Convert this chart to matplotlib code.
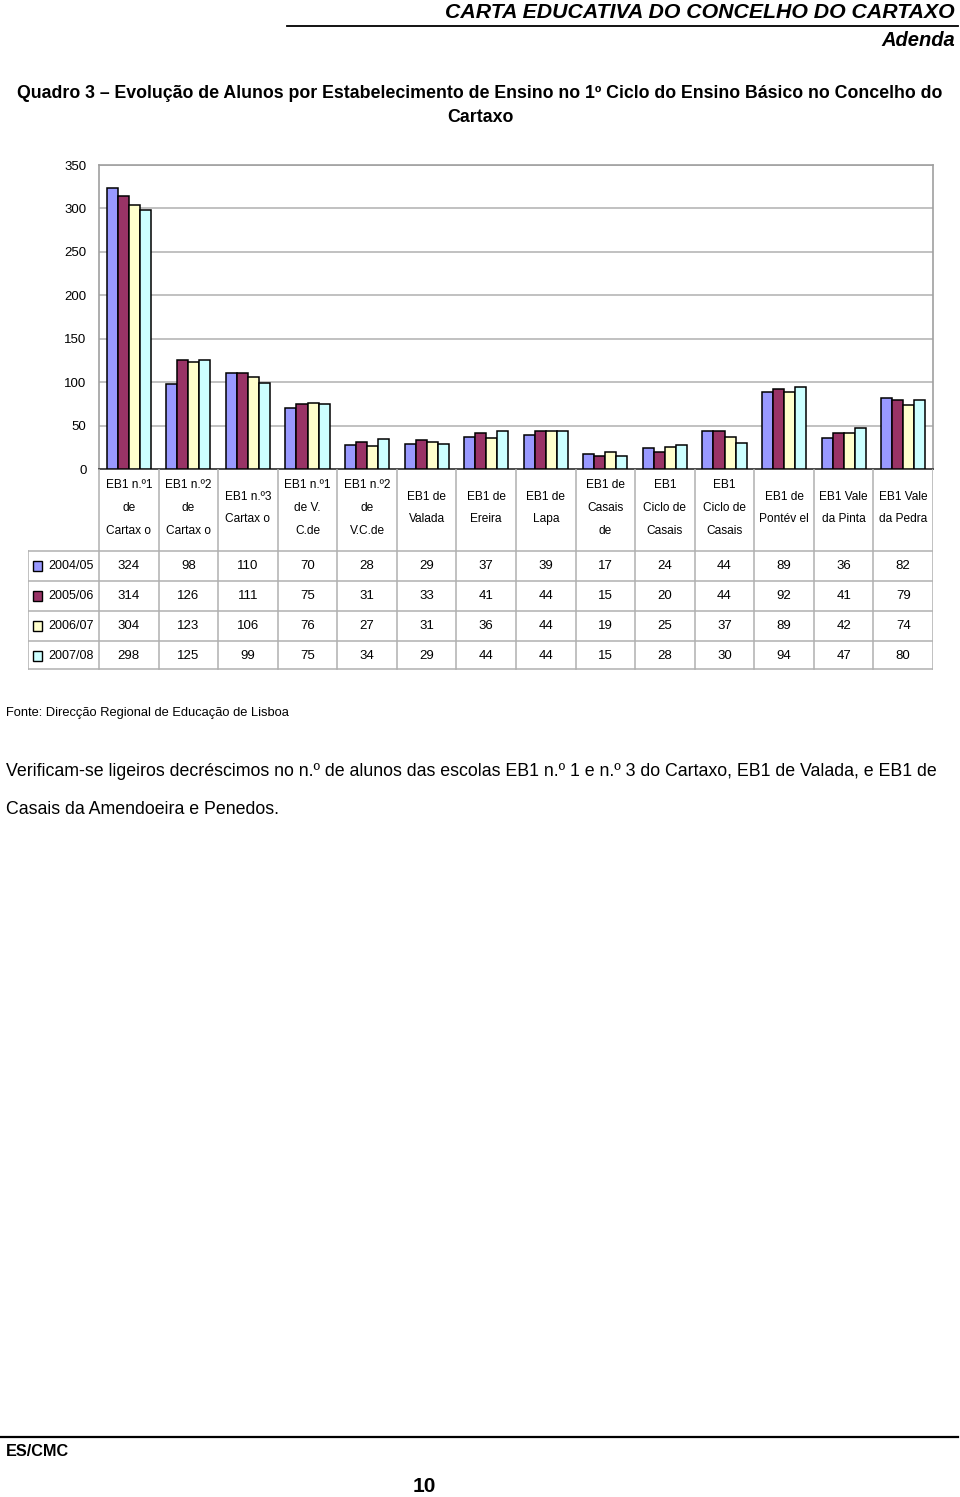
import numpy as np
import matplotlib
matplotlib.use("Agg")
import matplotlib.pyplot as plt
from matplotlib.patches import Rectangle

plt.rcParams['font.family'] = ['Liberation Sans', 'DejaVu Sans']

# --- data ---
schools = ["EB1 n.º1\nde\nCartax o", "EB1 n.º2\nde\nCartax o", "EB1 n.º3\nCartax o",
           "EB1 n.º1\nde V.\nC.de", "EB1 n.º2\nde\nV.C.de", "EB1 de\nValada",
           "EB1 de\nEreira", "EB1 de\nLapa", "EB1 de\nCasais\nde",
           "EB1\nCiclo de\nCasais", "EB1\nCiclo de\nCasais", "EB1 de\nPontév el",
           "EB1 Vale\nda Pinta", "EB1 Vale\nda Pedra"]
years = ["2004/05", "2005/06", "2006/07", "2007/08"]
y2004 = [324, 98, 110, 70, 28, 29, 37, 39, 17, 24, 44, 89, 36, 82]
y2005 = [314, 126, 111, 75, 31, 33, 41, 44, 15, 20, 44, 92, 41, 79]
y2006 = [304, 123, 106, 76, 27, 31, 36, 44, 19, 25, 37, 89, 42, 74]
y2007 = [298, 125, 99, 75, 34, 29, 44, 44, 15, 28, 30, 94, 47, 80]
series = [y2004, y2005, y2006, y2007]
colors = ["#9999FF", "#993366", "#FFFFCC", "#CCFFFF"]
yticks = [0, 50, 100, 150, 200, 250, 300, 350]

W, H = 960, 1497
fig = plt.figure(figsize=(W / 100, H / 100), dpi=100)


def fx(x):
    return x / W


def fy(y):
    return 1 - y / H


# page header
fig.text(fx(955), fy(12), "CARTA EDUCATIVA DO CONCELHO DO CARTAXO", ha="right", va="center",
         fontsize=15.3, fontweight="bold", fontstyle="italic")
fig.add_artist(plt.Line2D([fx(287), fx(958)], [fy(26), fy(26)], color="black", lw=1.3))
fig.text(fx(955), fy(41), "Adenda", ha="right", va="center",
         fontsize=14.5, fontweight="bold", fontstyle="italic")

# title
fig.text(fx(480), fy(93), "Quadro 3 – Evolução de Alunos por Estabelecimento de Ensino no 1º Ciclo do Ensino Básico no Concelho do",
         ha="center", va="center", fontsize=12.8, fontweight="bold")
fig.text(fx(480), fy(118), "Cartaxo", ha="center", va="center", fontsize=12.8, fontweight="bold")

# chart area
x0, x1, ytop, ybot = 99, 933, 165, 469
ax = fig.add_axes([fx(x0), fy(ybot), (x1 - x0) / W, (ybot - ytop) / H])
n = len(schools)
x = np.arange(n)
bw = 0.185
for i, (vals, c) in enumerate(zip(series, colors)):
    ax.bar(x + (i - 1.5) * bw, vals, width=bw, color=c, edgecolor="black", linewidth=1.1, zorder=3)
ax.set_xlim(-0.5, n - 0.5)
ax.set_ylim(0, 350)
ax.set_yticks(yticks)
ax.set_xticks([])
ax.tick_params(axis="y", length=0, pad=9, labelsize=9.5)
ax.yaxis.grid(True, color="#bcbcbc", lw=1.3, zorder=0)
for s in ["top", "right", "left"]:
    ax.spines[s].set_color("#a0a0a0")
    ax.spines[s].set_linewidth(1.2)
ax.spines["bottom"].set_color("#404040")
ax.spines["bottom"].set_linewidth(1.3)

# data table under the chart, same x scale as the bars
tl = 28
units_per_px = n / (x1 - x0)
tab = fig.add_axes([fx(tl), fy(670), (x1 - tl) / W, (670 - ybot) / H])
tab.set_xlim(-0.5 - (x0 - tl) * units_per_px, n - 0.5)
tab.set_ylim(670, ybot)
tab.axis("off")
gc = "#b0b0b0"
rows = [551, 581, 611, 641, 669]
for k in range(n + 1):
    tab.plot([k - 0.5, k - 0.5], [ybot, 669], color=gc, lw=1.1)
xl = -0.5 - (x0 - tl) * units_per_px
for r in rows:
    tab.plot([xl, n - 0.5], [r, r], color=gc, lw=1.1)
tab.plot([xl, xl], [551, 669], color=gc, lw=1.1)

for j, lab in enumerate(schools):
    tab.text(j, 508, lab, ha="center", va="center", fontsize=8.6, linespacing=2.2)

for i, (yr, vals, c) in enumerate(zip(years, series, colors)):
    yc = 566 + 30 * i
    tab.add_patch(Rectangle((xl + 5 * units_per_px, yc - 5), 9 * units_per_px, 10,
                            facecolor=c, edgecolor="black", lw=1))
    tab.text(xl + 20 * units_per_px, yc, yr, ha="left", va="center", fontsize=9)
    for j, v in enumerate(vals):
        tab.text(j, yc, str(v), ha="center", va="center", fontsize=9.5)

# source and commentary
fig.text(fx(6), fy(713), "Fonte: Direcção Regional de Educação de Lisboa", ha="left", va="center", fontsize=9.3)
fig.text(fx(6), fy(772), "Verificam-se ligeiros decréscimos no n.º de alunos das escolas EB1 n.º 1 e n.º 3 do Cartaxo, EB1 de Valada, e EB1 de",
         ha="left", va="center", fontsize=12.8)
fig.text(fx(6), fy(810), "Casais da Amendoeira e Penedos.", ha="left", va="center", fontsize=12.8)

# footer
fig.add_artist(plt.Line2D([fx(0), fx(958)], [fy(1437), fy(1437)], color="black", lw=1.6))
fig.text(fx(6), fy(1451), "ES/CMC", ha="left", va="center", fontsize=11.7, fontweight="bold")
fig.text(fx(424), fy(1487), "10", ha="center", va="center", fontsize=15, fontweight="bold")

fig.savefig("out.png", dpi=100)
